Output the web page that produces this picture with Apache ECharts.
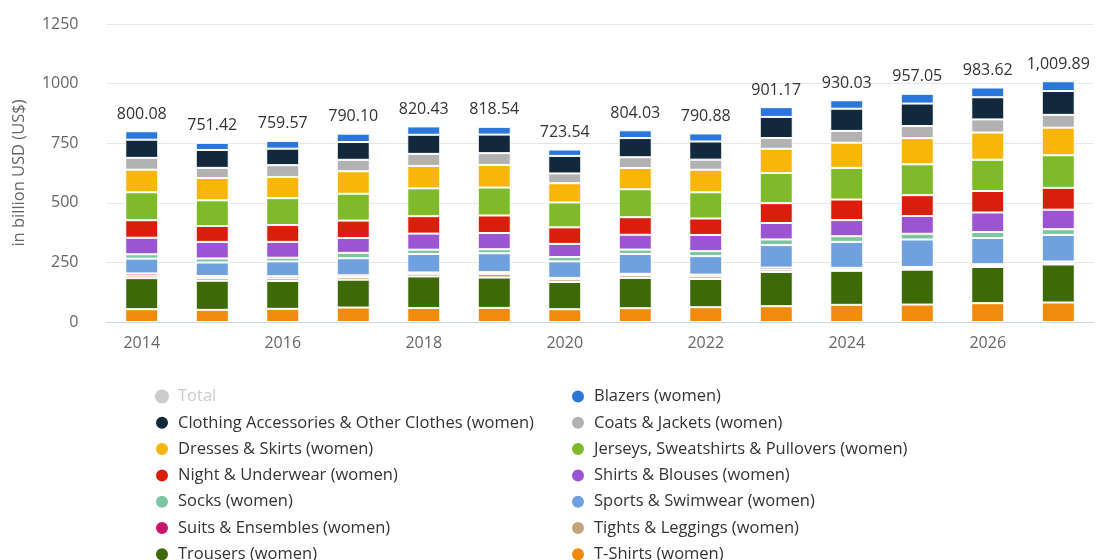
<!DOCTYPE html>
<html>
<head>
<meta charset="utf-8">
<script src="https://cdn.jsdelivr.net/npm/echarts@6/dist/echarts.min.js"></script>
<style>
  html, body { margin: 0; padding: 0; background: #fff; }
  #chart { width: 1097px; height: 560px; }
</style>
</head>
<body>
<div id="chart"></div>
<script>
// Women's apparel revenue by segment, in billion USD
const years = ['2014','2015','2016','2017','2018','2019','2020','2021','2022','2023','2024','2025','2026','2027'];
const yTicks = { min: 0, max: 1250, interval: 250 };

const totals      = [800.08, 751.42, 759.57, 790.10, 820.43, 818.54, 723.54, 804.03, 790.88, 901.17, 930.03, 957.05, 983.62, 1009.89];
const blazers     = [35.3, 29.8, 32.5, 35.2, 35.1, 32.5, 26.9, 32.5, 33.8, 40.8, 35.3, 40.8, 40.9, 40.9];
const accessories = [76.3, 75.1, 69.2, 74.6, 80.1, 77.8, 73.5, 80.5, 76.1, 88.7, 93.1, 94.3, 93.0, 100.1];
const coats       = [49.5, 42.5, 49.4, 47.9, 50.6, 49.5, 41.0, 45.2, 42.3, 45.1, 49.4, 50.7, 55.0, 53.6];
const dresses     = [94.7, 93.6, 88.9, 94.4, 94.1, 94.7, 80.6, 89.0, 94.5, 101.4, 105.8, 109.8, 114.1, 115.7];
const jerseys     = [117.3, 107.8, 112.9, 112.7, 116.6, 117.3, 104.6, 117.3, 110.0, 126.7, 132.7, 129.5, 131.1, 136.8];
const underwear   = [73.5, 66.6, 70.6, 73.2, 73.1, 73.5, 69.2, 73.5, 69.1, 83.1, 86.1, 87.3, 90.2, 91.7];
const shirts      = [69.3, 69.5, 66.4, 62.0, 67.4, 67.9, 55.1, 62.2, 67.7, 69.0, 67.7, 74.6, 81.7, 81.8];
const socks       = [18.4, 17.0, 15.5, 22.5, 18.3, 17.0, 18.4, 18.4, 21.1, 23.9, 24.0, 23.9, 25.4, 24.0];
const sports      = [62.0, 56.7, 62.1, 71.8, 77.3, 79.2, 69.2, 83.4, 77.5, 94.3, 108.7, 115.4, 109.9, 111.4];
const suits       = [9.0, 8.5, 8.5, 7.0, 5.6, 7.1, 5.7, 5.7, 7.0, 8.4, 7.1, 5.6, 5.6, 5.6];
const tights      = [11.0, 11.3, 11.3, 11.3, 11.2, 15.6, 11.3, 11.3, 11.3, 9.9, 5.6, 5.6, 5.6, 7.1];
const trousers    = [130.0, 121.9, 117.2, 116.9, 132.1, 127.2, 114.5, 127.2, 118.4, 143.6, 142.5, 146.4, 152.2, 159.4];
const tshirts     = [53.78, 51.12, 55.07, 60.6, 58.93, 59.24, 53.54, 57.83, 62.08, 66.27, 72.03, 73.15, 78.92, 81.79];

// Segments listed bottom of the stack first
const segments = [
  { name: 'T-Shirts (women)', data: tshirts, color: '#f28a0c' },
  { name: 'Trousers (women)', data: trousers, color: '#3d6a07' },
  { name: 'Tights & Leggings (women)', data: tights, color: '#c5a47d' },
  { name: 'Suits & Ensembles (women)', data: suits, color: '#c8146a' },
  { name: 'Sports & Swimwear (women)', data: sports, color: '#70a1df' },
  { name: 'Socks (women)', data: socks, color: '#7ec6a2' },
  { name: 'Shirts & Blouses (women)', data: shirts, color: '#9c55d2' },
  { name: 'Night & Underwear (women)', data: underwear, color: '#d91f0b' },
  { name: 'Jerseys, Sweatshirts & Pullovers (women)', data: jerseys, color: '#7fba2a' },
  { name: 'Dresses & Skirts (women)', data: dresses, color: '#fab608' },
  { name: 'Coats & Jackets (women)', data: coats, color: '#b2b2b2' },
  { name: 'Clothing Accessories & Other Clothes (women)', data: accessories, color: '#12283d' },
  { name: 'Blazers (women)', data: blazers, color: '#2a76db' }
];

const fmt = v => v.toLocaleString('en-US', { minimumFractionDigits: 2, maximumFractionDigits: 2 });

const series = [{
  name: 'Total', type: 'bar', stack: 'total-only', data: totals,
  itemStyle: { color: '#cccccc' }
}];
segments.forEach((s, i) => {
  const isTop = i === segments.length - 1;
  series.push({
    name: s.name,
    type: 'bar',
    stack: 'apparel',
    barWidth: 33,
    data: s.data,
    itemStyle: { color: s.color, borderColor: '#ffffff', borderWidth: 1 },
    label: isTop ? {
      show: true, position: 'top', distance: 9,
      formatter: p => fmt(totals[p.dataIndex]),
      fontFamily: 'Open Sans', fontSize: 16, color: '#333'
    } : { show: false },
    emphasis: { disabled: true }
  });
});

const legendCol1 = ['Total', 'Clothing Accessories & Other Clothes (women)', 'Dresses & Skirts (women)',
  'Night & Underwear (women)', 'Socks (women)', 'Suits & Ensembles (women)', 'Trousers (women)'];
const legendCol2 = ['Blazers (women)', 'Coats & Jackets (women)', 'Jerseys, Sweatshirts & Pullovers (women)',
  'Shirts & Blouses (women)', 'Sports & Swimwear (women)', 'Tights & Leggings (women)', 'T-Shirts (women)'];

const legendBase = {
  orient: 'vertical', top: 388, height: 220, padding: 0, icon: 'circle',
  itemWidth: 22, itemHeight: 14, itemGap: 9.3,
  inactiveColor: '#cccccc',
  selected: { 'Total': false },
  textStyle: { fontFamily: 'Open Sans', fontSize: 16.5, color: '#333', lineHeight: 16 }
};

const chart = echarts.init(document.getElementById('chart'), null, { renderer: 'canvas' });
chart.setOption({
  animation: false,
  backgroundColor: '#fff',
  grid: { left: 106.5, right: 3.5, top: 24, bottom: 238, containLabel: false },
  legend: [
    Object.assign({}, legendBase, { left: 154, data: legendCol1 }),
    Object.assign({}, legendBase, { left: 570, data: legendCol2 })
  ],
  xAxis: {
    type: 'category', data: years,
    axisLine: { lineStyle: { color: '#ccd6eb' } },
    axisTick: { alignWithLabel: true, interval: 1, length: 10, lineStyle: { color: '#ccd6eb' } },
    axisLabel: { interval: 1, margin: 13, fontFamily: 'Open Sans', fontSize: 16, color: '#666' }
  },
  yAxis: {
    type: 'value', min: yTicks.min, max: yTicks.max, interval: yTicks.interval,
    name: 'in billion USD (US$)', nameLocation: 'middle', nameGap: 79,
    nameTextStyle: { fontFamily: 'Open Sans', fontSize: 16.5, color: '#666' },
    axisLine: { show: false }, axisTick: { show: false },
    axisLabel: { margin: 28, fontFamily: 'Open Sans', fontSize: 16, color: '#666', formatter: v => String(v) },
    splitLine: { lineStyle: { color: '#e6e6e6' } }
  },
  series: series
});
</script>
</body>
</html>
